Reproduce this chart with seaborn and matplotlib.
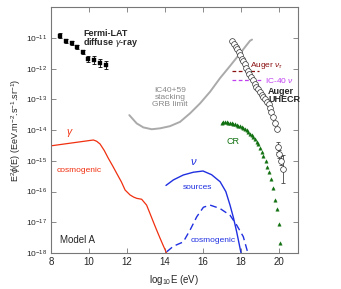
import numpy as np
import pandas as pd
import matplotlib
matplotlib.use("Agg")
import matplotlib.pyplot as plt
import seaborn as sns

# ── data (log10 E [eV], log10 E^2 phi) ─────────────
fermi_x = [8.47, 8.77, 9.09, 9.38, 9.68, 9.96, 10.28, 10.59, 10.89]
fermi_y = [-10.93, -11.09, -11.17, -11.30, -11.45, -11.68, -11.72, -11.80, -11.88]
fermi_err = [0.08, 0.07, 0.06, 0.06, 0.07, 0.10, 0.12, 0.13, 0.14]

grb_x = [12.12, 12.51, 12.86, 13.30, 13.74, 14.26, 14.79, 15.32, 15.84, 16.37, 16.89, 17.42, 17.95, 18.47, 18.58]
grb_y = [-13.51, -13.78, -13.91, -13.97, -13.94, -13.87, -13.73, -13.45, -13.13, -12.75, -12.31, -11.91, -11.50, -11.09, -11.05]

gam_x = [8.0, 10.23, 10.4, 10.58, 10.8, 11.02, 11.25, 11.46, 11.7, 11.9, 12.16, 12.35, 12.51, 12.77,
         13.03, 13.2, 13.38, 13.55, 13.74, 13.9, 14.08]
gam_y = [-14.51, -14.32, -14.36, -14.45, -14.66, -14.92, -15.17, -15.41, -15.68, -15.95, -16.11, -16.18,
         -16.22, -16.25, -16.44, -16.70, -16.98, -17.24, -17.52, -17.75, -18.0]

src_x = [14.05, 14.44, 14.96, 15.49, 16.0, 16.45, 16.9, 17.2, 17.42, 17.6, 17.77, 17.9, 18.0]
src_y = [-15.80, -15.62, -15.46, -15.37, -15.33, -15.45, -15.68, -16.0, -16.44, -16.85, -17.31, -17.7, -18.0]

cnu_x = [14.09, 14.44, 14.96, 15.32, 15.67, 16.02, 16.37, 16.89, 17.42, 17.77, 18.12, 18.36]
cnu_y = [-17.96, -17.78, -17.64, -17.25, -16.82, -16.51, -16.44, -16.55, -16.77, -17.09, -17.47, -18.0]

cr_x = [16.98, 17.07, 17.16, 17.25, 17.33, 17.42, 17.51, 17.60, 17.68, 17.77, 17.86, 17.95, 18.04, 18.12,
        18.21, 18.30, 18.39, 18.47, 18.56, 18.65, 18.74, 18.82, 18.91, 19.0, 19.09, 19.18,
        19.30, 19.38, 19.49, 19.59, 19.70, 19.79, 19.89, 20.0, 20.07]
cr_y = [-13.76, -13.75, -13.75, -13.75, -13.76, -13.77, -13.78, -13.79, -13.81, -13.83, -13.86, -13.88,
        -13.91, -13.94, -13.97, -14.01, -14.06, -14.11, -14.17, -14.23, -14.30, -14.38, -14.46, -14.57,
        -14.70, -14.83, -15.0, -15.19, -15.37, -15.60, -15.87, -16.28, -16.57, -17.04, -17.69]

uhe_x = [17.55, 17.63, 17.71, 17.79, 17.87, 17.95, 18.03, 18.11, 18.19, 18.27, 18.35, 18.44, 18.53, 18.62,
         18.71, 18.81, 18.91, 19.00, 19.09, 19.18, 19.27, 19.36, 19.45, 19.53, 19.60, 19.67, 19.77, 19.87]
uhe_y = [-11.08, -11.20, -11.29, -11.36, -11.45, -11.56, -11.67, -11.76, -11.86, -11.96, -12.06, -12.16,
         -12.26, -12.37, -12.49, -12.58, -12.67, -12.76, -12.84, -12.92, -13.00, -13.08, -13.16, -13.27,
         -13.40, -13.57, -13.77, -13.95]
uhe_err_x = [19.96, 20.01, 20.09, 20.19]
uhe_err_y = [-14.55, -14.78, -14.99, -15.27]
uhe_err = [0.15, 0.12, 0.15, 0.45]

auger_nu_x = [17.51, 18.95]
auger_nu_y = [-12.07, -12.07]
ic40_x = [17.51, 19.18]
ic40_y = [-12.37, -12.37]

RED = "#f03010"
BLUE = "#2030e0"
GREEN = "#107010"

sns.set_style("ticks")
plt.rcParams['font.family'] = ['Liberation Sans', 'DejaVu Sans']
plt.rcParams['mathtext.fontset'] = 'custom'
plt.rcParams['mathtext.rm'] = 'Liberation Sans'
plt.rcParams['mathtext.it'] = 'Liberation Sans:italic'
plt.rcParams['mathtext.bf'] = 'Liberation Sans:bold'

fig = plt.figure(figsize=(3.41, 2.89), dpi=100)
ax = fig.add_axes([0.1496, 0.1246, 0.7244, 0.85])

def frame(x, y):
    return pd.DataFrame({'x': x, 'y': 10.0 ** np.array(y)})

sns.lineplot(data=frame(grb_x, grb_y), x='x', y='y', ax=ax, color='#aaaaaa', lw=1.4, sort=False, estimator=None)
sns.lineplot(data=frame(gam_x, gam_y), x='x', y='y', ax=ax, color=RED, lw=0.9, sort=False, estimator=None)
sns.lineplot(data=frame(src_x, src_y), x='x', y='y', ax=ax, color=BLUE, lw=1.0, sort=False, estimator=None)
sns.lineplot(data=frame(cnu_x, cnu_y), x='x', y='y', ax=ax, color=BLUE, lw=1.0, sort=False, estimator=None,
             dashes=False).lines[-1].set_dashes([5, 3])
ax.plot(auger_nu_x, 10.0 ** np.array(auger_nu_y), color='#8b1010', lw=0.9, dashes=[3, 2])
ax.plot(ic40_x, 10.0 ** np.array(ic40_y), color='#c040f0', lw=0.9, dashes=[3, 2])

# Fermi diffuse gamma
fy = 10.0 ** np.array(fermi_y)
fe = np.array(fermi_err)
ax.errorbar(fermi_x, fy, yerr=[fy - fy * 10 ** -fe, fy * 10 ** fe - fy], fmt='none',
            ecolor='black', elinewidth=0.6, capsize=1.5, capthick=0.6)
sns.scatterplot(data=frame(fermi_x, fermi_y), x='x', y='y', ax=ax, marker='s', s=11,
                color='black', edgecolor='black', zorder=3)

# CR triangles
sns.scatterplot(data=frame(cr_x, cr_y), x='x', y='y', ax=ax, marker='^', s=6,
                color=GREEN, edgecolor=GREEN, linewidth=0.3, zorder=3)

# Auger UHECR
uy = 10.0 ** np.array(uhe_err_y)
ue = np.array(uhe_err)
ax.errorbar(uhe_err_x, uy, yerr=[uy - uy * 10 ** -ue, uy * 10 ** ue - uy], fmt='none',
            ecolor='#444444', elinewidth=0.6, capsize=1.5, capthick=0.6, zorder=3)
ux = uhe_x + uhe_err_x
uyy = uhe_y + uhe_err_y
sns.scatterplot(data=frame(ux, uyy), x='x', y='y', ax=ax, marker='o', s=17,
                facecolor='white', edgecolor='#333333', linewidth=0.5, zorder=4)

ax.set_yscale('log')
ax.set_xlim(8, 21)
ax.set_ylim(1e-18, 1e-10)
ax.set_xticks([8, 10, 12, 14, 16, 18, 20])
ax.set_yticks([10.0 ** k for k in range(-18, -10)])
ax.set_yticklabels([r'10$^{%d}$' % k for k in range(-18, -10)])
ax.minorticks_off()
ax.tick_params(axis='both', direction='in', length=3.5, width=0.6, color='#777777',
               top=True, right=True, pad=3)
ax.tick_params(axis='x', labelsize=7)
ax.tick_params(axis='y', labelsize=6)
for sp in ax.spines.values():
    sp.set_color('#777777')
    sp.set_linewidth(0.8)

ax.set_xlabel(r'log$_{10}$E (eV)', fontsize=7, labelpad=4)
ax.set_ylabel(r'E$^2\phi$(E) (EeV.m$^{-2}$.s$^{-1}$.sr$^{-1}$)', fontsize=6.5, labelpad=2)

def t(x, ly, s, **kw):
    ax.text(x, 10.0 ** ly, s, **kw)

t(9.68, -10.84, 'Fermi-LAT', fontsize=6.5, fontweight='bold', va='center')
t(9.68, -11.16, r'diffuse $\gamma$-ray', fontsize=6.5, fontweight='bold', va='center')
t(14.26, -12.95, 'IC40+59\nstacking\nGRB limit', fontsize=6, color='#888888', ha='center', va='center',
  linespacing=1.0)
t(18.47, -11.88, r'Auger $\nu_\tau$', fontsize=6, color='#8b1010', va='center')
t(19.24, -12.37, r'IC-40 $\nu$', fontsize=6, color='#c040f0', va='center')
t(19.42, -12.73, 'Auger', fontsize=6.5, fontweight='bold', va='center')
t(19.42, -12.99, 'UHECR', fontsize=6.5, fontweight='bold', va='center')
t(9.0, -14.09, r'$\gamma$', fontsize=7.5, color=RED, ha='center', va='center')
t(8.32, -15.30, 'cosmogenic', fontsize=6, color=RED, va='center')
t(8.47, -17.58, 'Model A', fontsize=7, va='center')
t(15.49, -15.05, r'$\nu$', fontsize=8, color=BLUE, ha='center', va='center')
t(15.71, -15.88, 'sources', fontsize=6, color=BLUE, ha='center', va='center')
t(16.53, -17.60, 'cosmogenic', fontsize=6, color=BLUE, ha='center', va='center')
t(17.58, -14.38, 'CR', fontsize=6.5, color=GREEN, ha='center', va='center')

fig.savefig('out.png', dpi=100)
